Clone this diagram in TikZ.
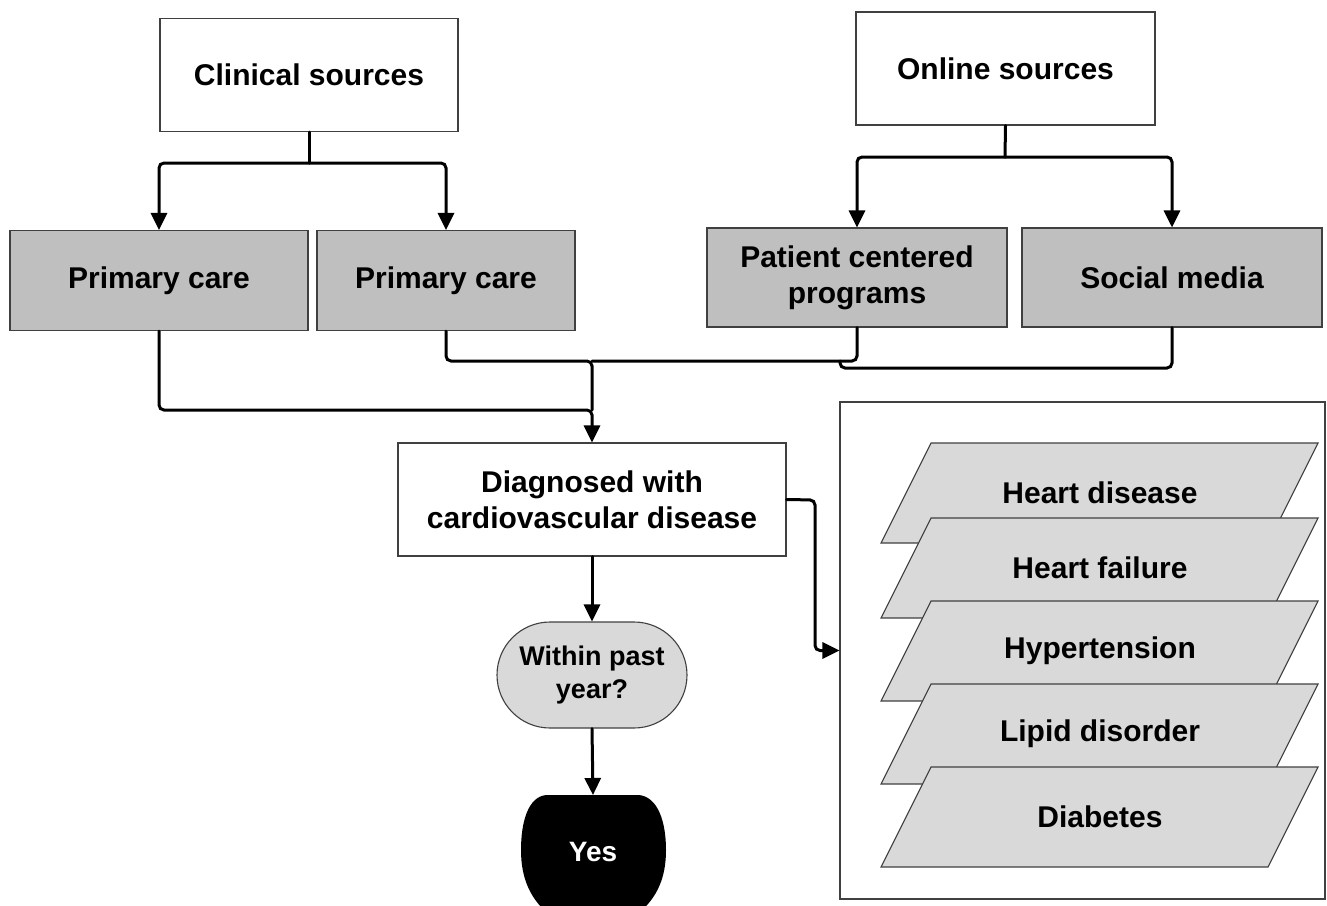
\documentclass[tikz,border=0pt]{standalone}
\usepackage{fontspec}
\setmainfont{Liberation Sans}
\usetikzlibrary{arrows.meta,shapes.misc}
\definecolor{boxgray}{HTML}{BFBFBF}
\definecolor{lightgray}{HTML}{D9D9D9}
\definecolor{edge}{HTML}{404040}
\tikzset{
  plainbox/.style={draw=edge, line width=1.1pt, fill=white, align=center,
    inner sep=0pt, font=\bfseries\fontsize{30}{36}\selectfont},
  graybox/.style={plainbox, fill=boxgray},
  label/.style={align=center, inner sep=0pt, font=\bfseries\fontsize{30}{36}\selectfont},
  joint/.style={line width=3pt, rounded corners=5pt, line cap=round},
  flow/.style={joint, -{Triangle[length=17pt,width=16pt]}},
  slab/.style={draw=edge, line width=1.1pt, fill=lightgray},
}
\begin{document}
\begin{tikzpicture}[x=1pt,y=-1pt]
\useasboundingbox (0,0) rectangle (1327,905);

% source boxes
\node[plainbox, minimum width=298, minimum height=113] (cs) at (309,75) {Clinical sources};
\node[plainbox, minimum width=299, minimum height=113] (os) at (1005.5,68.5) {Online sources};

% channels
\node[graybox, minimum width=298, minimum height=100] (pc1) at (159,280.5) {Primary care};
\node[graybox, minimum width=258, minimum height=100] (pc2) at (446,280.5) {Primary care};
\node[graybox, minimum width=300, minimum height=99] (pcp) at (857,277.5) {Patient centered\\programs};
\node[graybox, minimum width=300, minimum height=99] (sm) at (1172,277.5) {Social media};

% diagnosis and decision
\node[plainbox, minimum width=388, minimum height=113] (diag) at (592,499.5) {Diagnosed with\\cardiovascular disease};
\node[plainbox, rounded rectangle, fill=lightgray, minimum width=190, minimum height=106,
      font=\bfseries\fontsize{27}{33}\selectfont] (within) at (592,675) {Within past\\year?};

% outcome
\fill[black] (546,795) -- (639,795) .. controls (658,797) and (666,822) .. (666,850)
  .. controls (666,878) and (657,897) .. (640,912) -- (546,912)
  .. controls (530,897) and (521,878) .. (521,850)
  .. controls (521,822) and (528,797) .. (546,795) -- cycle;
\coordinate (yestop) at (593,795);
\node[label, text=white, font=\bfseries\fontsize{28}{32}\selectfont] (yes) at (593,852) {Yes};

% condition panel
\node[draw=edge, line width=1.1pt, minimum width=485, minimum height=497, inner sep=0pt] (panel) at (1082.5,650.5) {};
\foreach \t/\n/\s in {443/hd/Heart disease, 518/hf/Heart failure, 601/ht/Hypertension, 684/ld/Lipid disorder, 767/db/Diabetes}{
  \filldraw[slab] (931,\t) -- (1318,\t) -- (1268,\t+100) -- (881,\t+100) -- cycle;
  \node[label] (\n) at (1100,\t+50) {\s};
}

% connectors from the sources
\coordinate (csj) at (309,163);
\draw[joint] (cs.south) -- (csj);
\draw[flow] (csj) -| (pc1.north);
\draw[flow] (csj) -| (pc2.north);
\coordinate (osj) at (1005,157);
\draw[joint] (os.south) -- (osj);
\draw[flow] (osj) -| (pcp.north);
\draw[flow] (osj) -| (sm.north);

% channels merging into the diagnosis
\coordinate (merge) at (592,410);
\coordinate (j2) at (592,361);
\coordinate (j3) at (840,368);
\coordinate (j4) at (840,361);
\draw[flow] (pc1.south) |- (merge) -- (diag.north);
\draw[joint] (pc2.south) |- (j2) -- (merge);
\draw[joint] (pcp.south) |- (j2);
\draw[joint] (sm.south) |- (j3) -- (j4);

% downstream
\draw[flow] (diag.south) -- (within.north);
\draw[flow] (within.south) -- (yestop);
\coordinate (dj) at (815,500);
\draw[flow] (diag.east) -- (dj) |- (panel.west);
\end{tikzpicture}
\end{document}
